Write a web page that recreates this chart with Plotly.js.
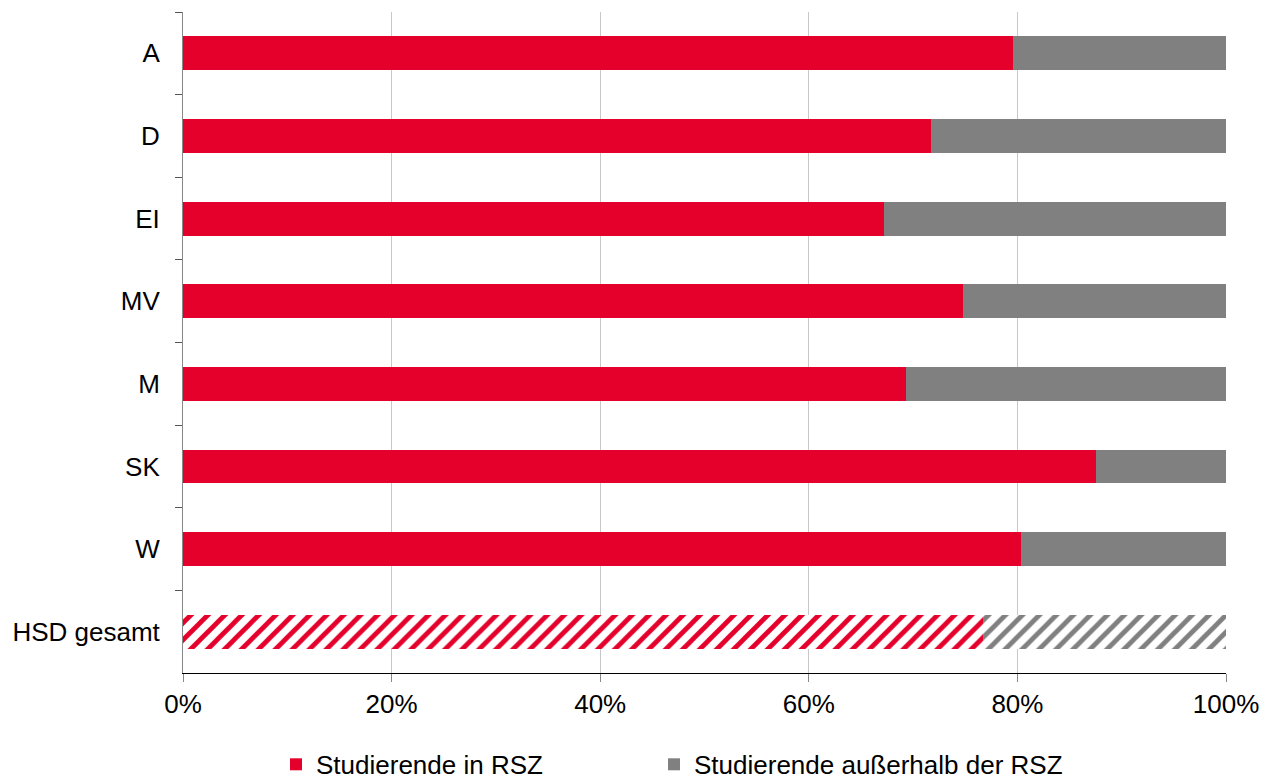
<!DOCTYPE html>
<html><head><meta charset="utf-8">
<script src="https://cdn.plot.ly/plotly-3.0.1.min.js"></script>
<style>body{margin:0;background:#fff}#chart{width:1272px;height:780px}</style>
</head><body><div id="chart"></div>
<script>
const categories = ["A","D","EI","MV","M","SK","W","HSD gesamt"];
const inRSZ = [79.6, 71.7, 67.2, 74.8, 69.3, 87.5, 80.3, 76.7];
const ausserhalbRSZ = inRSZ.map(v => 100 - v);
const seriesNames = ["Studierende in RSZ", "Studierende außerhalb der RSZ"];
const patternShapes = ["","","","","","","","/"];

const red = "#E4002B", gray = "#808080";
function trace(vals, name, color, leg){
  return {
    type:"bar", orientation:"h", y:categories, x:vals, name:name, legend:leg,
    marker:{color:color, line:{width:0},
      pattern:{shape:patternShapes, fgcolor:color, bgcolor:"#ffffff", size:12, solidity:0.4, fillmode:"replace"}},
    hoverinfo:"x+name"
  };
}
const data = [trace(inRSZ, seriesNames[0], red, "legend"), trace(ausserhalbRSZ, seriesNames[1], gray, "legend2")];
const legBase = {orientation:"h", xref:"container", xanchor:"left", yref:"container", y:0.02, yanchor:"middle",
    font:{size:26}, itemwidth:30, bgcolor:"rgba(0,0,0,0)"};
const layout = {
  width:1272, height:780, barmode:"stack", bargap:0.59,
  margin:{l:183, r:46, t:12, b:107},
  paper_bgcolor:"#fff", plot_bgcolor:"#fff",
  font:{family:"Liberation Sans, Arial, sans-serif", size:26, color:"#000"},
  xaxis:{range:[0,100], tickvals:[0,20,40,60,80,100], ticktext:["0%","20%","40%","60%","80%","100%"],
    showgrid:true, gridcolor:"#c8c8c8", gridwidth:1, zeroline:false, automargin:false,
    showline:true, linecolor:"#000", linewidth:1, ticks:"outside", ticklen:8, tickcolor:"#888",
    tickfont:{size:26}},
  yaxis:{autorange:"reversed", showline:true, linecolor:"#888", linewidth:1, automargin:false,
    ticks:"outside", tickson:"boundaries", ticklen:7, tickcolor:"#555",
    showgrid:false, tickfont:{size:26}, ticklabelstandoff:17},
  legend:Object.assign({}, legBase, {x:276/1272}),
  legend2:Object.assign({}, legBase, {x:654/1272}),
  showlegend:true
};
Plotly.newPlot("chart", data, layout, {displayModeBar:false});
</script></body></html>
